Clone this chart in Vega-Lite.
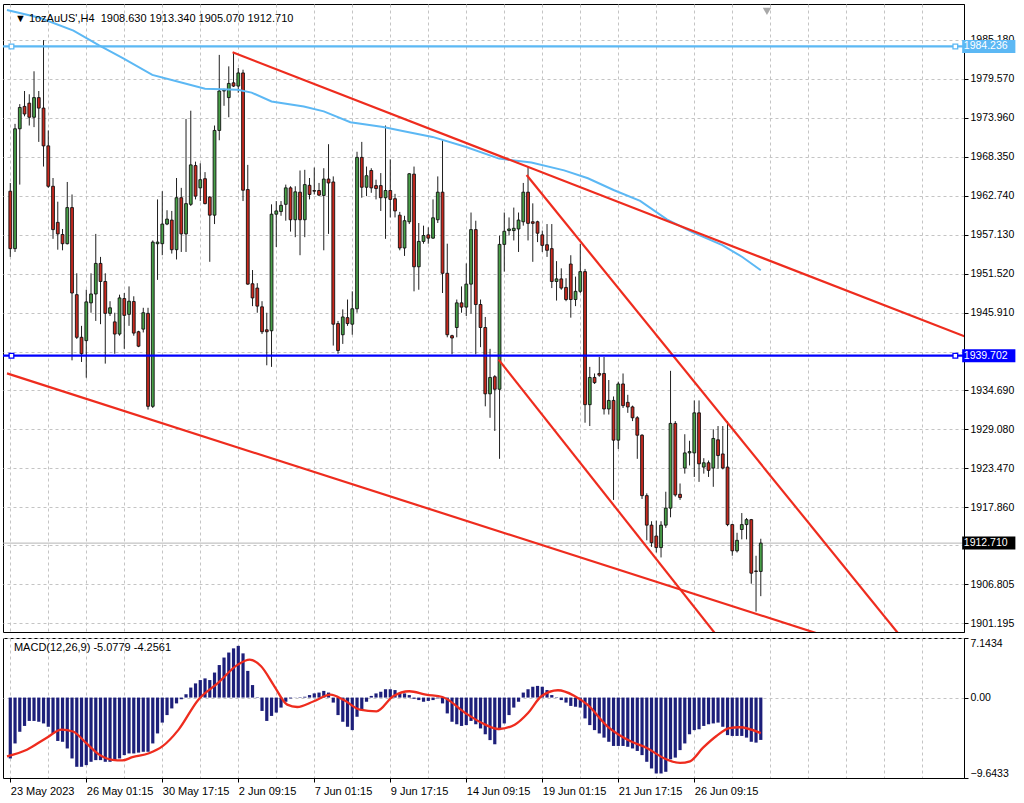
{
  "$schema": "https://vega.github.io/schema/vega-lite/v6.json",
  "background": "white",
  "padding": {"left": 1, "top": 3, "right": 0, "bottom": 0},
  "spacing": 4,
  "config": {
    "font": "Liberation Sans",
    "view": {"stroke": "#000000", "strokeWidth": 1},
    "axis": {"labelFont": "Liberation Sans", "labelFontSize": 10.5, "labelColor": "#000000", "tickColor": "#000000", "domainColor": "#000000", "gridColor": "#c4c4c4", "gridDash": [3, 3], "gridWidth": 1, "title": null, "labelOverlap": false}
  },
  "datasets": {
    "candles": [
      {"i":0,"o":1963.39,"h":1964.57,"l":1953.93,"c":1955.12},
      {"i":1,"o":1955.12,"h":1973.09,"l":1954.64,"c":1972.38},
      {"i":2,"o":1972.38,"h":1975.93,"l":1964.34,"c":1975.45},
      {"i":3,"o":1975.6,"h":1977.82,"l":1974.18,"c":1974.51},
      {"i":4,"o":1976.07,"h":1977.35,"l":1972.85,"c":1974.04},
      {"i":5,"o":1974.04,"h":1980.66,"l":1972.62,"c":1976.87},
      {"i":6,"o":1976.87,"h":1977.82,"l":1970.49,"c":1975.36},
      {"i":7,"o":1975.36,"h":1985.15,"l":1966.94,"c":1969.92},
      {"i":8,"o":1969.92,"h":1972.14,"l":1963.87,"c":1964.1},
      {"i":9,"o":1964.1,"h":1965.29,"l":1956.53,"c":1957.86},
      {"i":10,"o":1958.9,"h":1961.88,"l":1954.97,"c":1957.24},
      {"i":11,"o":1957.15,"h":1957.95,"l":1954.88,"c":1955.83},
      {"i":12,"o":1955.83,"h":1964.72,"l":1955.73,"c":1961.03},
      {"i":13,"o":1961.03,"h":1962.92,"l":1939.03,"c":1948.73},
      {"i":14,"o":1948.49,"h":1951.57,"l":1942.11,"c":1942.35},
      {"i":15,"o":1942.35,"h":1944.0,"l":1938.8,"c":1939.98},
      {"i":16,"o":1941.87,"h":1949.2,"l":1936.53,"c":1947.45},
      {"i":17,"o":1947.31,"h":1951.57,"l":1945.89,"c":1948.59},
      {"i":18,"o":1948.59,"h":1957.24,"l":1944.71,"c":1952.99},
      {"i":19,"o":1952.99,"h":1953.93,"l":1944.24,"c":1950.39},
      {"i":20,"o":1950.39,"h":1951.57,"l":1938.56,"c":1945.8},
      {"i":21,"o":1945.8,"h":1947.55,"l":1945.42,"c":1946.6},
      {"i":22,"o":1944.57,"h":1945.89,"l":1939.98,"c":1942.82},
      {"i":23,"o":1942.82,"h":1948.49,"l":1942.58,"c":1948.02},
      {"i":24,"o":1947.93,"h":1948.73,"l":1940.69,"c":1945.51},
      {"i":25,"o":1945.66,"h":1949.68,"l":1944.0,"c":1947.55},
      {"i":26,"o":1947.5,"h":1948.26,"l":1942.58,"c":1942.96},
      {"i":27,"o":1943.15,"h":1943.29,"l":1940.93,"c":1941.07},
      {"i":28,"o":1943.53,"h":1946.6,"l":1943.05,"c":1945.89},
      {"i":29,"o":1945.8,"h":1946.6,"l":1931.94,"c":1932.41},
      {"i":30,"o":1932.41,"h":1956.3,"l":1932.17,"c":1956.06},
      {"i":31,"o":1955.83,"h":1962.21,"l":1950.62,"c":1956.06},
      {"i":32,"o":1955.83,"h":1963.39,"l":1954.17,"c":1958.66},
      {"i":33,"o":1958.66,"h":1960.65,"l":1958.5,"c":1959.37},
      {"i":34,"o":1959.23,"h":1960.55,"l":1954.41,"c":1954.97},
      {"i":35,"o":1954.97,"h":1965.29,"l":1953.56,"c":1962.45},
      {"i":36,"o":1962.45,"h":1963.87,"l":1954.64,"c":1957.24},
      {"i":37,"o":1957.24,"h":1973.8,"l":1954.64,"c":1961.6},
      {"i":38,"o":1961.5,"h":1974.98,"l":1961.26,"c":1967.18},
      {"i":39,"o":1967.08,"h":1967.65,"l":1962.21,"c":1962.68},
      {"i":40,"o":1963.87,"h":1967.41,"l":1961.97,"c":1965.05},
      {"i":41,"o":1965.19,"h":1966.14,"l":1961.5,"c":1961.6},
      {"i":42,"o":1962.54,"h":1962.68,"l":1953.22,"c":1959.94},
      {"i":43,"o":1959.94,"h":1972.85,"l":1958.66,"c":1972.14},
      {"i":44,"o":1972.14,"h":1983.02,"l":1970.73,"c":1977.82},
      {"i":45,"o":1977.82,"h":1978.15,"l":1975.69,"c":1977.91},
      {"i":46,"o":1976.87,"h":1981.37,"l":1974.04,"c":1978.91},
      {"i":47,"o":1979.0,"h":1983.26,"l":1978.4,"c":1978.53},
      {"i":48,"o":1978.53,"h":1981.13,"l":1977.58,"c":1980.42},
      {"i":49,"o":1980.42,"h":1980.89,"l":1961.97,"c":1963.53},
      {"i":50,"o":1963.63,"h":1967.18,"l":1949.91,"c":1950.01},
      {"i":51,"o":1950.06,"h":1952.04,"l":1946.84,"c":1948.02},
      {"i":52,"o":1949.44,"h":1950.15,"l":1945.89,"c":1946.84},
      {"i":53,"o":1946.74,"h":1947.55,"l":1942.82,"c":1943.15},
      {"i":54,"o":1943.43,"h":1945.89,"l":1938.32,"c":1943.15},
      {"i":55,"o":1943.29,"h":1961.5,"l":1938.09,"c":1960.08},
      {"i":56,"o":1960.08,"h":1961.97,"l":1955.35,"c":1960.55},
      {"i":57,"o":1960.46,"h":1961.97,"l":1959.85,"c":1961.36},
      {"i":58,"o":1961.5,"h":1964.34,"l":1959.14,"c":1963.87},
      {"i":59,"o":1963.87,"h":1964.1,"l":1957.57,"c":1959.28},
      {"i":60,"o":1959.28,"h":1964.1,"l":1956.77,"c":1963.3},
      {"i":61,"o":1963.25,"h":1966.37,"l":1954.17,"c":1959.28},
      {"i":62,"o":1959.28,"h":1966.47,"l":1956.77,"c":1964.34},
      {"i":63,"o":1964.24,"h":1965.29,"l":1962.21,"c":1962.92},
      {"i":64,"o":1963.49,"h":1966.8,"l":1962.92,"c":1963.39},
      {"i":65,"o":1963.49,"h":1964.58,"l":1962.68,"c":1962.83},
      {"i":66,"o":1962.78,"h":1966.7,"l":1954.88,"c":1965.14},
      {"i":67,"o":1965.14,"h":1970.16,"l":1957.24,"c":1964.58},
      {"i":68,"o":1964.72,"h":1965.52,"l":1941.16,"c":1944.24},
      {"i":69,"o":1944.33,"h":1944.71,"l":1939.98,"c":1940.45},
      {"i":70,"o":1942.72,"h":1946.37,"l":1941.4,"c":1945.28},
      {"i":71,"o":1945.18,"h":1947.79,"l":1944.0,"c":1944.33},
      {"i":72,"o":1944.24,"h":1948.97,"l":1942.72,"c":1946.46},
      {"i":73,"o":1946.46,"h":1969.07,"l":1945.89,"c":1968.26},
      {"i":74,"o":1968.26,"h":1970.49,"l":1962.45,"c":1963.96},
      {"i":75,"o":1963.96,"h":1966.94,"l":1962.68,"c":1965.62},
      {"i":76,"o":1966.37,"h":1966.7,"l":1963.16,"c":1963.87},
      {"i":77,"o":1964.2,"h":1965.05,"l":1962.21,"c":1963.77},
      {"i":78,"o":1964.2,"h":1966.0,"l":1960.55,"c":1962.45},
      {"i":79,"o":1962.45,"h":1972.85,"l":1956.53,"c":1963.49},
      {"i":80,"o":1963.49,"h":1967.98,"l":1959.61,"c":1962.21},
      {"i":81,"o":1962.31,"h":1963.01,"l":1959.61,"c":1960.55},
      {"i":82,"o":1959.94,"h":1960.41,"l":1954.88,"c":1955.21},
      {"i":83,"o":1955.21,"h":1959.85,"l":1954.07,"c":1959.14},
      {"i":84,"o":1958.99,"h":1966.0,"l":1958.66,"c":1965.9},
      {"i":85,"o":1965.85,"h":1966.94,"l":1948.97,"c":1952.51},
      {"i":86,"o":1952.51,"h":1958.81,"l":1949.2,"c":1956.16},
      {"i":87,"o":1956.16,"h":1958.43,"l":1955.83,"c":1957.01},
      {"i":88,"o":1957.1,"h":1958.19,"l":1955.83,"c":1956.63},
      {"i":89,"o":1956.63,"h":1962.21,"l":1956.53,"c":1959.56},
      {"i":90,"o":1959.28,"h":1965.52,"l":1958.81,"c":1963.25},
      {"i":91,"o":1963.25,"h":1970.72,"l":1948.73,"c":1951.57},
      {"i":92,"o":1951.57,"h":1955.83,"l":1942.35,"c":1942.72},
      {"i":93,"o":1942.58,"h":1942.72,"l":1939.89,"c":1942.25},
      {"i":94,"o":1943.76,"h":1947.79,"l":1942.35,"c":1947.31},
      {"i":95,"o":1947.31,"h":1949.68,"l":1945.89,"c":1946.7},
      {"i":96,"o":1946.7,"h":1952.99,"l":1945.42,"c":1950.01},
      {"i":97,"o":1950.01,"h":1960.32,"l":1945.75,"c":1957.86},
      {"i":98,"o":1957.86,"h":1959.14,"l":1939.89,"c":1947.07},
      {"i":99,"o":1947.07,"h":1947.79,"l":1940.93,"c":1943.76},
      {"i":100,"o":1943.76,"h":1945.28,"l":1932.41,"c":1934.21},
      {"i":101,"o":1934.21,"h":1940.69,"l":1930.76,"c":1936.57},
      {"i":102,"o":1936.67,"h":1936.9,"l":1928.86,"c":1934.87},
      {"i":103,"o":1934.87,"h":1957.01,"l":1924.85,"c":1955.73},
      {"i":104,"o":1955.73,"h":1960.32,"l":1951.81,"c":1957.62},
      {"i":105,"o":1957.72,"h":1959.61,"l":1957.01,"c":1957.95},
      {"i":106,"o":1957.72,"h":1961.03,"l":1956.3,"c":1958.05},
      {"i":107,"o":1957.95,"h":1960.32,"l":1954.64,"c":1959.23},
      {"i":108,"o":1958.99,"h":1964.58,"l":1958.43,"c":1963.25},
      {"i":109,"o":1963.25,"h":1966.94,"l":1956.3,"c":1958.76},
      {"i":110,"o":1958.99,"h":1961.64,"l":1953.22,"c":1958.76},
      {"i":111,"o":1958.99,"h":1959.14,"l":1956.06,"c":1957.34},
      {"i":112,"o":1957.1,"h":1957.72,"l":1954.64,"c":1955.59},
      {"i":113,"o":1955.68,"h":1958.66,"l":1953.93,"c":1954.88},
      {"i":114,"o":1955.12,"h":1958.66,"l":1949.44,"c":1950.39},
      {"i":115,"o":1950.39,"h":1953.32,"l":1947.64,"c":1950.76},
      {"i":116,"o":1950.76,"h":1952.28,"l":1949.2,"c":1949.44},
      {"i":117,"o":1949.53,"h":1950.86,"l":1947.55,"c":1947.79},
      {"i":118,"o":1952.9,"h":1954.17,"l":1945.18,"c":1947.79},
      {"i":119,"o":1947.79,"h":1951.09,"l":1946.84,"c":1948.97},
      {"i":120,"o":1948.97,"h":1955.83,"l":1948.73,"c":1951.81},
      {"i":121,"o":1951.81,"h":1952.2,"l":1930.05,"c":1932.65},
      {"i":122,"o":1932.65,"h":1938.09,"l":1929.57,"c":1936.57},
      {"i":123,"o":1936.57,"h":1937.14,"l":1935.63,"c":1935.82},
      {"i":124,"o":1937.14,"h":1939.51,"l":1936.67,"c":1936.9},
      {"i":125,"o":1937.14,"h":1939.51,"l":1931.23,"c":1932.03},
      {"i":126,"o":1932.03,"h":1936.2,"l":1931.23,"c":1933.26},
      {"i":127,"o":1933.26,"h":1933.83,"l":1918.93,"c":1927.54},
      {"i":128,"o":1927.54,"h":1935.96,"l":1926.27,"c":1935.63},
      {"i":129,"o":1935.63,"h":1937.14,"l":1932.17,"c":1932.51},
      {"i":130,"o":1932.98,"h":1934.07,"l":1931.47,"c":1932.32},
      {"i":131,"o":1932.32,"h":1932.51,"l":1930.28,"c":1930.76},
      {"i":132,"o":1930.76,"h":1930.99,"l":1924.85,"c":1928.25},
      {"i":133,"o":1928.25,"h":1928.4,"l":1919.07,"c":1919.55},
      {"i":134,"o":1919.55,"h":1919.88,"l":1913.11,"c":1915.3},
      {"i":135,"o":1915.3,"h":1915.86,"l":1912.17,"c":1912.78},
      {"i":136,"o":1913.73,"h":1915.95,"l":1911.36,"c":1912.07},
      {"i":137,"o":1912.07,"h":1915.86,"l":1910.65,"c":1915.3},
      {"i":138,"o":1915.3,"h":1920.11,"l":1914.91,"c":1917.75},
      {"i":139,"o":1917.75,"h":1937.52,"l":1916.43,"c":1929.95},
      {"i":140,"o":1929.95,"h":1930.28,"l":1919.41,"c":1919.65},
      {"i":141,"o":1919.74,"h":1921.3,"l":1918.93,"c":1919.27},
      {"i":142,"o":1923.52,"h":1928.39,"l":1922.72,"c":1925.7},
      {"i":143,"o":1925.7,"h":1927.45,"l":1923.9,"c":1925.89},
      {"i":144,"o":1925.7,"h":1933.26,"l":1922.24,"c":1931.47},
      {"i":145,"o":1931.47,"h":1933.26,"l":1921.53,"c":1924.13},
      {"i":146,"o":1923.66,"h":1924.94,"l":1922.72,"c":1924.28},
      {"i":147,"o":1924.28,"h":1924.61,"l":1922.24,"c":1923.19},
      {"i":148,"o":1923.52,"h":1929.1,"l":1920.82,"c":1927.78},
      {"i":149,"o":1927.59,"h":1929.57,"l":1923.42,"c":1925.32},
      {"i":150,"o":1925.55,"h":1929.57,"l":1923.33,"c":1923.52},
      {"i":151,"o":1923.66,"h":1930.28,"l":1915.15,"c":1915.38},
      {"i":152,"o":1915.38,"h":1915.5,"l":1910.89,"c":1911.6},
      {"i":153,"o":1911.6,"h":1914.2,"l":1911.36,"c":1913.11},
      {"i":154,"o":1914.67,"h":1917.04,"l":1913.25,"c":1915.38},
      {"i":155,"o":1915.38,"h":1916.33,"l":1913.25,"c":1916.09},
      {"i":156,"o":1916.09,"h":1916.19,"l":1906.87,"c":1908.38},
      {"i":157,"o":1908.7,"h":1910.89,"l":1902.85,"c":1908.63},
      {"i":158,"o":1908.63,"h":1913.34,"l":1905.07,"c":1912.71}
    ],
    "ma": [
      {"i":-0.7,"v":1989.49},{"i":6.2,"v":1988.36},{"i":13.3,"v":1986.51},{"i":18.7,"v":1984.39},{"i":23.7,"v":1982.55},
      {"i":29.9,"v":1980.14},{"i":35.4,"v":1979.14},{"i":41,"v":1978.15},{"i":47.9,"v":1978.01},{"i":50.8,"v":1977.59},
      {"i":55,"v":1976.31},{"i":61.8,"v":1975.6},{"i":66,"v":1974.89},{"i":71.6,"v":1973.33},{"i":78.5,"v":1972.63},
      {"i":82.6,"v":1972.06},{"i":88.9,"v":1971.21},{"i":95.8,"v":1969.79},{"i":102.9,"v":1968.09},{"i":109.7,"v":1967.52},
      {"i":116.6,"v":1966.39},{"i":121.6,"v":1965.26},{"i":127,"v":1963.56},{"i":132.6,"v":1962.0},{"i":138.3,"v":1959.3},
      {"i":143.7,"v":1957.46},{"i":149.9,"v":1955.62},{"i":154.1,"v":1953.92},{"i":158,"v":1952.0}
    ],
    "trend": [
      {"id":"a","i":46.8,"p":1983.4},{"id":"a","i":205,"p":1941.39},
      {"id":"b","i":108.7,"p":1965.72},{"id":"b","i":190,"p":1897.12},
      {"id":"c","i":102.8,"p":1939.14},{"id":"c","i":150,"p":1898.3},
      {"id":"d","i":-0.69,"p":1937.15},{"id":"d","i":170,"p":1899.68}
    ],
    "levels": [
      {"kind":"hi","p":1984.236,"label":"1984.236"},
      {"kind":"lo","p":1939.702,"label":"1939.702"},
      {"kind":"bid","p":1912.71,"label":"1912.710"}
    ],
    "macd": [
      {"i":0,"v":-7.3},{"i":1,"v":-5.5},{"i":2,"v":-4.1},{"i":3,"v":-3.4},{"i":4,"v":-2.8},{"i":5,"v":-2.8},{"i":6,"v":-2.9},{"i":7,"v":-3.1},{"i":8,"v":-3.5},{"i":9,"v":-4.3},
      {"i":10,"v":-5.2},{"i":11,"v":-5.3},{"i":12,"v":-6.1},{"i":13,"v":-7.3},{"i":14,"v":-8.3},{"i":15,"v":-8.3},{"i":16,"v":-8.1},{"i":17,"v":-7.7},{"i":18,"v":-7.5},{"i":19,"v":-7.5},
      {"i":20,"v":-7.7},{"i":21,"v":-7.7},{"i":22,"v":-7.5},{"i":23,"v":-7.3},{"i":24,"v":-6.9},{"i":25,"v":-6.7},{"i":26,"v":-6.7},{"i":27,"v":-6.6},{"i":28,"v":-6.5},{"i":29,"v":-6.5},
      {"i":30,"v":-5.5},{"i":31,"v":-4.3},{"i":32,"v":-3.0},{"i":33,"v":-2.1},{"i":34,"v":-1.3},{"i":35,"v":-0.7},{"i":36,"v":-0.2},{"i":37,"v":0.4},{"i":38,"v":1.2},{"i":39,"v":1.7},
      {"i":40,"v":2.1},{"i":41,"v":2.3},{"i":42,"v":2.1},{"i":43,"v":3.0},{"i":44,"v":3.9},{"i":45,"v":4.8},{"i":46,"v":5.4},{"i":47,"v":5.9},{"i":48,"v":6.2},{"i":49,"v":5.3},
      {"i":50,"v":3.2},{"i":51,"v":1.5},{"i":52,"v":-0.05},{"i":53,"v":-1.6},{"i":54,"v":-2.8},{"i":55,"v":-2.2},{"i":56,"v":-1.8},{"i":57,"v":-1.2},{"i":58,"v":-0.5},{"i":59,"v":-0.1},
      {"i":60,"v":-0.02},{"i":61,"v":0.05},{"i":62,"v":0.1},{"i":63,"v":0.3},{"i":64,"v":0.5},{"i":65,"v":0.6},{"i":66,"v":0.8},{"i":67,"v":0.6},{"i":68,"v":-0.6},{"i":69,"v":-2.1},
      {"i":70,"v":-2.9},{"i":71,"v":-3.5},{"i":72,"v":-3.9},{"i":73,"v":-2.3},{"i":74,"v":-1.5},{"i":75,"v":-0.5},{"i":76,"v":0.2},{"i":77,"v":0.5},{"i":78,"v":0.7},{"i":79,"v":1.0},
      {"i":80,"v":1.0},{"i":81,"v":0.9},{"i":82,"v":0.5},{"i":83,"v":0.5},{"i":84,"v":0.3},{"i":85,"v":-0.15},{"i":86,"v":-0.3},{"i":87,"v":-0.5},{"i":88,"v":-0.4},{"i":89,"v":-0.3},
      {"i":90,"v":-0.1},{"i":91,"v":-0.7},{"i":92,"v":-1.9},{"i":93,"v":-2.9},{"i":94,"v":-3.2},{"i":95,"v":-3.4},{"i":96,"v":-3.3},{"i":97,"v":-2.8},{"i":98,"v":-3.2},{"i":99,"v":-3.7},
      {"i":100,"v":-4.4},{"i":101,"v":-5.1},{"i":102,"v":-5.6},{"i":103,"v":-3.9},{"i":104,"v":-3.1},{"i":105,"v":-2.1},{"i":106,"v":-1.2},{"i":107,"v":-0.5},{"i":108,"v":0.6},{"i":109,"v":1.0},
      {"i":110,"v":1.3},{"i":111,"v":1.4},{"i":112,"v":1.3},{"i":113,"v":0.9},{"i":114,"v":0.3},{"i":115,"v":0.05},{"i":116,"v":-0.3},{"i":117,"v":-0.6},{"i":118,"v":-1.0},{"i":119,"v":-1.1},
      {"i":120,"v":-1.2},{"i":121,"v":-2.5},{"i":122,"v":-3.3},{"i":123,"v":-3.9},{"i":124,"v":-4.3},{"i":125,"v":-4.8},{"i":126,"v":-5.3},{"i":127,"v":-5.8},{"i":128,"v":-5.8},{"i":129,"v":-5.8},
      {"i":130,"v":-5.9},{"i":131,"v":-6.1},{"i":132,"v":-6.4},{"i":133,"v":-6.9},{"i":134,"v":-7.7},{"i":135,"v":-8.5},{"i":136,"v":-9.1},{"i":137,"v":-9.1},{"i":138,"v":-8.9},{"i":139,"v":-7.4},
      {"i":140,"v":-7.2},{"i":141,"v":-6.3},{"i":142,"v":-5.5},{"i":143,"v":-4.4},{"i":144,"v":-3.9},{"i":145,"v":-3.8},{"i":146,"v":-3.4},{"i":147,"v":-3.2},{"i":148,"v":-3.1},{"i":149,"v":-3.0},
      {"i":150,"v":-3.5},{"i":151,"v":-4.5},{"i":152,"v":-4.6},{"i":153,"v":-4.6},{"i":154,"v":-4.6},{"i":155,"v":-4.8},{"i":156,"v":-5.3},{"i":157,"v":-5.4},{"i":158,"v":-5.0779}
    ],
    "signal": [
      {"i":-0.69,"v":-7.04},{"i":3.5,"v":-6.25},{"i":7.6,"v":-4.84},{"i":10.8,"v":-3.85},{"i":13.2,"v":-4.07},{"i":16.0,"v":-5.47},
      {"i":18.8,"v":-6.87},{"i":21.5,"v":-7.47},{"i":23.6,"v":-7.54},{"i":25.7,"v":-7.14},{"i":29.2,"v":-6.67},{"i":32.0,"v":-5.86},
      {"i":35.4,"v":-3.87},{"i":39.6,"v":-0.25},{"i":43.75,"v":1.76},{"i":47.9,"v":3.95},{"i":50.4,"v":4.55},{"i":52.8,"v":3.75},
      {"i":55.6,"v":1.35},{"i":58.3,"v":-0.85},{"i":60.4,"v":-1.13},{"i":63.9,"v":-0.44},{"i":67.4,"v":0.35},{"i":70.1,"v":-0.25},
      {"i":73.6,"v":-1.45},{"i":77.1,"v":-1.65},{"i":80.6,"v":0.16},{"i":84.0,"v":0.76},{"i":87.5,"v":0.35},{"i":91.0,"v":0.07},
      {"i":95.8,"v":-1.85},{"i":99.3,"v":-3.05},{"i":102.8,"v":-3.77},{"i":106.2,"v":-3.25},{"i":109.0,"v":-1.85},{"i":111.8,"v":0.16},
      {"i":115.3,"v":0.88},{"i":118.7,"v":0.23},{"i":121.5,"v":-0.85},{"i":125.7,"v":-3.44},{"i":130.6,"v":-5.24},{"i":134.0,"v":-6.04},
      {"i":137.5,"v":-7.24},{"i":141.0,"v":-7.84},{"i":143.1,"v":-7.64},{"i":145.8,"v":-6.04},{"i":148.6,"v":-4.64},{"i":151.4,"v":-3.65},
      {"i":153.5,"v":-3.56},{"i":158,"v":-4.2561}
    ]
  },
  "vconcat": [
    {
      "width": 961,
      "height": 628,
      "layer": [
        {
          "data": {"name": "levels"},
          "transform": [{"filter": "datum.kind === 'bid'"}],
          "mark": {"type": "rule", "stroke": "#b4b4b4", "strokeWidth": 1},
          "encoding": {
            "y": {"field": "p", "type": "quantitative", "scale": {"domain": [1900.63, 1989.63], "nice": false, "zero": false},
              "axis": {"orient": "right", "values": [1901.195, 1906.805, 1912.415, 1917.86, 1923.47, 1929.08, 1934.69, 1940.3, 1945.91, 1951.52, 1957.13, 1962.74, 1968.35, 1973.96, 1979.57, 1985.18],
                "labelExpr": "abs(datum.value - 1912.415) < 0.01 || abs(datum.value - 1940.3) < 0.01 ? '' : format(datum.value, '.3f')",
                "grid": true, "tickSize": 4, "labelPadding": 2, "domain": true}}
          }
        },
        {
          "data": {"name": "candles"},
          "mark": {"type": "rule", "stroke": "#202020", "strokeWidth": 1},
          "encoding": {
            "x": {"field": "i", "type": "quantitative", "scale": {"domain": [-0.48, 199.73], "nice": false, "zero": false},
              "axis": {"values": [0, 8, 16, 24, 32, 40, 48, 56, 64, 72, 80, 88, 96, 104, 112, 120, 128, 136, 144, 152, 160, 168, 176, 184, 192], "labels": false, "ticks": false, "domain": false, "grid": true}},
            "y": {"field": "l", "type": "quantitative", "scale": {"domain": [1900.63, 1989.63], "nice": false, "zero": false}},
            "y2": {"field": "h"}
          }
        },
        {
          "data": {"name": "candles"},
          "mark": {"type": "bar", "size": 2.8, "stroke": "#111111", "strokeWidth": 0.9},
          "encoding": {
            "x": {"field": "i", "type": "quantitative", "scale": {"domain": [-0.48, 199.73], "nice": false, "zero": false}},
            "y": {"field": "o", "type": "quantitative", "scale": {"domain": [1900.63, 1989.63], "nice": false, "zero": false}},
            "y2": {"field": "c"},
            "fill": {"condition": {"test": "datum.c >= datum.o", "value": "#48a048"}, "value": "#c8281e"}
          }
        },
        {
          "data": {"name": "ma"},
          "mark": {"type": "line", "stroke": "#5cb8f4", "strokeWidth": 2, "clip": true},
          "encoding": {
            "x": {"field": "i", "type": "quantitative", "scale": {"domain": [-0.48, 199.73], "nice": false, "zero": false}},
            "y": {"field": "v", "type": "quantitative", "scale": {"domain": [1900.63, 1989.63], "nice": false, "zero": false}}
          }
        },
        {
          "data": {"name": "trend"},
          "mark": {"type": "line", "stroke": "#ee2c1e", "strokeWidth": 2.2, "clip": true},
          "encoding": {
            "x": {"field": "i", "type": "quantitative", "scale": {"domain": [-0.48, 199.73], "nice": false, "zero": false}},
            "y": {"field": "p", "type": "quantitative", "scale": {"domain": [1900.63, 1989.63], "nice": false, "zero": false}},
            "detail": {"field": "id", "type": "nominal"}
          }
        },
        {
          "data": {"name": "levels"},
          "transform": [{"filter": "datum.kind !== 'bid'"}],
          "mark": {"type": "rule", "strokeWidth": 2.2},
          "encoding": {
            "y": {"field": "p", "type": "quantitative", "scale": {"domain": [1900.63, 1989.63], "nice": false, "zero": false}},
            "stroke": {"field": "kind", "type": "nominal", "scale": {"domain": ["hi", "lo", "bid"], "range": ["#5cb8f4", "#0000ff", "#b4b4b4"]}, "legend": null}
          }
        },
        {
          "data": {"name": "levels"},
          "transform": [{"filter": "datum.kind !== 'bid'"}],
          "mark": {"type": "point", "shape": "square", "size": 22, "filled": true, "fill": "white", "strokeWidth": 1.3, "opacity": 1},
          "encoding": {
            "x": {"datum": 0.25, "type": "quantitative", "scale": {"domain": [-0.48, 199.73], "nice": false, "zero": false}},
            "y": {"field": "p", "type": "quantitative", "scale": {"domain": [1900.63, 1989.63], "nice": false, "zero": false}},
            "stroke": {"field": "kind", "type": "nominal", "scale": {"domain": ["hi", "lo", "bid"], "range": ["#5cb8f4", "#0000ff", "#b4b4b4"]}, "legend": null}
          }
        },
        {
          "data": {"name": "levels"},
          "transform": [{"filter": "datum.kind !== 'bid'"}],
          "mark": {"type": "point", "shape": "square", "size": 22, "filled": true, "fill": "white", "strokeWidth": 1.3, "opacity": 1},
          "encoding": {
            "x": {"datum": 198.96, "type": "quantitative", "scale": {"domain": [-0.48, 199.73], "nice": false, "zero": false}},
            "y": {"field": "p", "type": "quantitative", "scale": {"domain": [1900.63, 1989.63], "nice": false, "zero": false}},
            "stroke": {"field": "kind", "type": "nominal", "scale": {"domain": ["hi", "lo", "bid"], "range": ["#5cb8f4", "#0000ff", "#b4b4b4"]}, "legend": null}
          }
        },
        {
          "data": {"name": "levels"},
          "mark": {"type": "bar", "orient": "horizontal", "size": 13},
          "encoding": {
            "x": {"datum": 200.4, "type": "quantitative", "scale": {"domain": [-0.48, 199.73], "nice": false, "zero": false}},
            "x2": {"datum": 211.6},
            "y": {"field": "p", "type": "quantitative", "scale": {"domain": [1900.63, 1989.63], "nice": false, "zero": false}},
            "fill": {"field": "kind", "type": "nominal", "scale": {"domain": ["hi", "lo", "bid"], "range": ["#5cb8f4", "#0000ff", "#000000"]}, "legend": null}
          }
        },
        {
          "data": {"name": "levels"},
          "mark": {"type": "text", "align": "left", "baseline": "middle", "fontSize": 10.5, "fill": "white", "font": "Liberation Sans"},
          "encoding": {
            "x": {"datum": 200.75, "type": "quantitative", "scale": {"domain": [-0.48, 199.73], "nice": false, "zero": false}},
            "y": {"field": "p", "type": "quantitative", "scale": {"domain": [1900.63, 1989.63], "nice": false, "zero": false}},
            "text": {"field": "label"}
          }
        },
        {
          "data": {"values": [{"t": "▼ 1ozAuUS',H4\u00a0\u00a01908.630 1913.340 1905.070 1912.710"}]},
          "mark": {"type": "text", "align": "left", "baseline": "middle", "fontSize": 11, "fill": "#000000", "font": "Liberation Sans"},
          "encoding": {
            "x": {"datum": 0.98, "type": "quantitative", "scale": {"domain": [-0.48, 199.73], "nice": false, "zero": false}},
            "y": {"datum": 1988.21, "type": "quantitative", "scale": {"domain": [1900.63, 1989.63], "nice": false, "zero": false}},
            "text": {"field": "t"}
          }
        },
        {
          "data": {"values": [{"m": "shift"}]},
          "mark": {"type": "point", "shape": "triangle-down", "size": 70, "filled": true, "fill": "#a8a8a8", "opacity": 1, "clip": true},
          "encoding": {
            "x": {"datum": 159.3, "type": "quantitative", "scale": {"domain": [-0.48, 199.73], "nice": false, "zero": false}},
            "y": {"datum": 1989.3, "type": "quantitative", "scale": {"domain": [1900.63, 1989.63], "nice": false, "zero": false}}
          }
        }
      ]
    },
    {
      "width": 961,
      "height": 140,
      "layer": [
        {
          "data": {"name": "macd"},
          "mark": {"type": "bar", "size": 3.2, "fill": "#1d1f7a"},
          "encoding": {
            "x": {"field": "i", "type": "quantitative", "scale": {"domain": [-0.48, 199.73], "nice": false, "zero": false},
              "axis": {"values": [0, 8, 16, 24, 32, 40, 48, 56, 64, 72, 80, 88, 96, 104, 112, 120, 128, 136, 144, 152, 160, 168, 176, 184, 192],
                "labelExpr": "datum.value % 16 === 0 && datum.value <= 144 ? ['23 May 2023','26 May 01:15','30 May 17:15','2 Jun 09:15','7 Jun 01:15','9 Jun 17:15','14 Jun 09:15','19 Jun 01:15','21 Jun 17:15','26 Jun 09:15'][datum.value / 16] : ''",
                "labelAlign": "left", "labelFontSize": 11, "labelPadding": 3, "tickSize": 4, "domain": true, "grid": true,
                "tickOpacity": {"condition": {"test": "datum.value % 16 === 0 && datum.value <= 144", "value": 1}, "value": 0}}},
            "y": {"field": "v", "type": "quantitative", "scale": {"domain": [-9.6433, 7.1434], "nice": false, "zero": false},
              "axis": {"orient": "right", "values": [-9.6433, 0, 7.1434], "labelExpr": "datum.value === 0 ? '0.00' : format(datum.value, '.4f')", "labelFlush": true, "grid": true, "tickSize": 4, "labelPadding": 2}},
            "y2": {"datum": 0}
          }
        },
        {
          "data": {"name": "signal"},
          "mark": {"type": "line", "stroke": "#ee2c1e", "strokeWidth": 2.3, "clip": true, "interpolate": "monotone"},
          "encoding": {
            "x": {"field": "i", "type": "quantitative", "scale": {"domain": [-0.48, 199.73], "nice": false, "zero": false}},
            "y": {"field": "v", "type": "quantitative", "scale": {"domain": [-9.6433, 7.1434], "nice": false, "zero": false}}
          }
        },
        {
          "data": {"values": [{"t": "MACD(12,26,9) -5.0779 -4.2561"}]},
          "mark": {"type": "text", "align": "left", "baseline": "middle", "fontSize": 11, "fill": "#000000", "font": "Liberation Sans"},
          "encoding": {
            "x": {"datum": 0.77, "type": "quantitative", "scale": {"domain": [-0.48, 199.73], "nice": false, "zero": false}},
            "y": {"datum": 5.94, "type": "quantitative", "scale": {"domain": [-9.6433, 7.1434], "nice": false, "zero": false}},
            "text": {"field": "t"}
          }
        }
      ]
    }
  ]
}
